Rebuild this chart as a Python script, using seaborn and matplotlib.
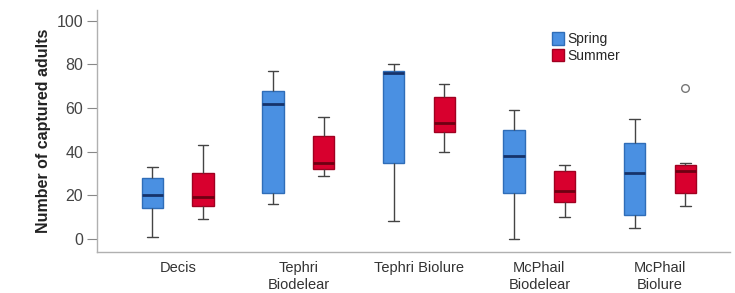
import pandas as pd
import matplotlib
matplotlib.use('Agg')
import matplotlib.pyplot as plt
from matplotlib.patches import Patch
import seaborn as sns

# Values (five-number summaries, one outlier)
categories = ['Decis', 'Tephri\nBiodelear', 'Tephri Biolure', 'McPhail\nBiodelear', 'McPhail\nBiolure']
spring = [
    [1, 14, 20, 28, 33],
    [16, 21, 62, 68, 77],
    [8, 35, 76, 77, 80],
    [0, 21, 38, 50, 59],
    [5, 11, 30, 44, 55],
]
summer = [
    [9, 15, 19, 30, 43],
    [29, 32, 35, 47, 56],
    [40, 49, 53, 65, 71],
    [10, 17, 22, 31, 34],
    [15, 18, 21, 26, 31, 33, 34, 35, 69],
]
seasons = ['Spring', 'Summer']
colors = {'Spring': '#4a90e2', 'Summer': '#d8002e'}
median_colors = {'Spring': '#16336b', 'Summer': '#6e0012'}
edge_colors = {'Spring': '#2f6db8', 'Summer': '#a00020'}

rows = []
for cat, sp, su in zip(categories, spring, summer):
    rows += [(cat, 'Spring', v) for v in sp]
    rows += [(cat, 'Summer', v) for v in su]
df = pd.DataFrame(rows, columns=['trap', 'season', 'count'])

sns.set_style('white')
plt.rcParams['font.family'] = ['Liberation Sans', 'DejaVu Sans']

fig, ax = plt.subplots(figsize=(7.35, 2.93), dpi=100)
fig.subplots_adjust(left=0.132, right=0.993, bottom=0.14, top=0.966)

sns.boxplot(data=df, x='trap', y='count', hue='season', order=categories,
            hue_order=seasons, palette=colors, saturation=1, width=0.84, gap=0.58,
            whis=1.5, linewidth=1.0, legend=False, ax=ax,
            whiskerprops=dict(color='#444444'),
            capprops=dict(color='#444444'),
            flierprops=dict(marker='o', markersize=5.5, markerfacecolor='white',
                            markeredgecolor='#777777', markeredgewidth=1.0),
            medianprops=dict(linewidth=2.0))

# recolour box edges and median lines per season
n = len(categories)
for i, patch in enumerate(ax.patches[:2 * n]):
    s = seasons[i // n]
    patch.set_edgecolor(edge_colors[s])
lines_per_box = len(ax.lines) // (2 * n)
for b in range(2 * n):
    s = seasons[b // n]
    box_lines = ax.lines[b * lines_per_box:(b + 1) * lines_per_box]
    # order: whisker, whisker, cap, cap, median, flier
    box_lines[4].set_color(median_colors[s])

ax.set_xlim(-0.67, 4.58)
ax.set_ylim(-6, 105)
ax.set_yticks([0, 20, 40, 60, 80, 100])
ax.set_xlabel('')
ax.set_ylabel('Number of captured adults', fontsize=11.5, fontweight='bold',
              color='#222222', labelpad=4)
ax.tick_params(axis='y', left=True, length=7, width=0.8, color='#888888',
               labelsize=11.5, labelcolor='#444444', pad=3)
ax.tick_params(axis='x', bottom=False, labelsize=10.5, labelcolor='#333333', pad=3)
for lbl in ax.get_xticklabels():
    lbl.set_linespacing(1.3)

for side in ['top', 'right']:
    ax.spines[side].set_visible(False)
for side in ['left', 'bottom']:
    ax.spines[side].set_color('#b0b0b0')
    ax.spines[side].set_linewidth(1.0)

handles = [Patch(facecolor=colors[s], edgecolor=edge_colors[s], label=s) for s in seasons]
ax.legend(handles=handles, loc='upper left', bbox_to_anchor=(0.71, 0.93),
          frameon=False, fontsize=10, handlelength=0.9, handleheight=1.0,
          handletextpad=0.2, labelspacing=0.15, borderaxespad=0)

fig.savefig('out.png', dpi=100)
